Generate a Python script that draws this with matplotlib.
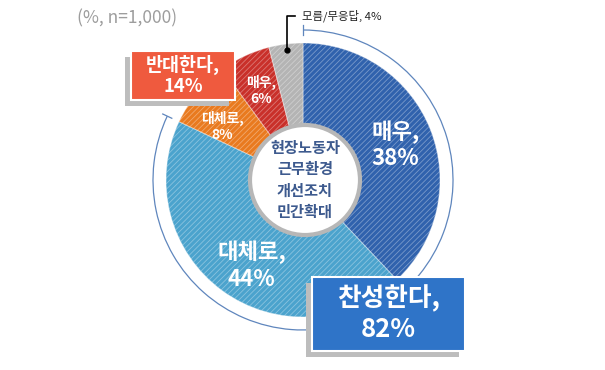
import numpy as np
import matplotlib
matplotlib.use("Agg")
import matplotlib.pyplot as plt
from matplotlib.patches import Circle, Rectangle, Arc

plt.rcParams['font.family'] = ['Noto Sans CJK KR', 'DejaVu Sans']
plt.rcParams['hatch.linewidth'] = 0.6

# ================================
# DATA
# ================================
slice_labels = ['매우', '대체로', '대체로', '매우', '모름/무응답']
slice_values = [38, 44, 8, 6, 4]
slice_colors = ['#3062ad', '#4ba3cd', '#e97a1f', '#c9302a', '#b4b4b4']

support_label = '찬성한다'
support_value = slice_values[0] + slice_values[1]
oppose_label = '반대한다'
oppose_value = slice_values[2] + slice_values[3]
center_text = '현장노동자\n근무환경\n개선조치\n민간확대'
note_text = '(%, n=1,000)'

W, H = 605, 370


def Y(y):
    """Convert top-down pixel y into axis y."""
    return H - y


fig = plt.figure(figsize=(W / 100, H / 100), dpi=100)
ax = fig.add_axes([0, 0, 1, 1])

cx, cy = 303, Y(180)
R = 137

ax.pie(slice_values, colors=slice_colors, startangle=90, counterclock=False,
       center=(cx, cy), radius=R, frame=True,
       wedgeprops=dict(hatch='//////', edgecolor=(1, 1, 1, 0.35), linewidth=0.8))
ax.set_xlim(0, W)
ax.set_ylim(0, H)
ax.set_aspect('equal')
ax.axis('off')

# slice labels: (radius fraction, angle nudge in degrees, font size)
total = sum(slice_values)
cum = np.cumsum([0] + slice_values)
label_specs = [(0.72, 1, 16), (0.73, -5, 16), (0.71, -6, 10), (0.72, 0, 10)]
for i, (rf, nudge, fs) in enumerate(label_specs):
    mid = (cum[i] + slice_values[i] / 2) / total * 360 + nudge
    ang = np.deg2rad(90 - mid)
    tx = cx + rf * R * np.cos(ang)
    ty = cy + rf * R * np.sin(ang)
    ax.text(tx, ty, f"{slice_labels[i]},\n{slice_values[i]}%", color='white',
            fontsize=fs, fontweight='bold', ha='center', va='center', linespacing=1.2)

# inner circle
ax.add_patch(Circle((cx + 2, cy), 55, facecolor='white', edgecolor='#b7b7b7', lw=3, zorder=5))
ax.text(cx + 2, cy, center_text, color='#3d5a8e', fontsize=11, fontweight='bold',
        ha='center', va='center', linespacing=1.42, zorder=6)

# outer arc showing the support share
ra = 150
end_deg = 90 - support_value / total * 360
ax.add_patch(Arc((cx, cy), 2 * ra, 2 * ra, theta1=end_deg % 360, theta2=90,
                 color='#5f86bd', lw=0.9))
for a in [90, end_deg]:
    t = np.deg2rad(a)
    ax.plot([cx + (ra - 5) * np.cos(t), cx + (ra + 5) * np.cos(t)],
            [cy + (ra - 5) * np.sin(t), cy + (ra + 5) * np.sin(t)],
            color='#5f86bd', lw=0.9)

# leader for the don't-know slice
mid = (cum[4] + slice_values[4] / 2) / total * 360
t = np.deg2rad(90 - mid)
dx, dy = cx + 0.96 * R * np.cos(t), cy + 0.96 * R * np.sin(t)
ax.plot([dx, dx, dx + 8], [dy, Y(16), Y(16)], color='black', lw=1.2, zorder=7)
ax.plot(dx, dy, 'o', color='black', ms=3.5, zorder=7)
ax.text(302, Y(16), f"{slice_labels[4]}, {slice_values[4]}%", fontsize=8.2,
        ha='left', va='center', color='#222222')


# summary boxes with shadow
def summary_box(x0, y0, x1, y1, color, text, fs):
    ax.add_patch(Rectangle((x0 - 6, Y(y1 + 6)), x1 - x0, y1 - y0, facecolor='#bdbdbd',
                           edgecolor='none', zorder=8))
    ax.add_patch(Rectangle((x0, Y(y1)), x1 - x0, y1 - y0, facecolor=color,
                           edgecolor='white', lw=1.5, zorder=9))
    ax.text((x0 + x1) / 2, Y((y0 + y1) / 2), text, color='white', fontsize=fs,
            fontweight='bold', ha='center', va='center', linespacing=1.15, zorder=10)


summary_box(312, 277, 465, 351, '#2f74c8', f"{support_label},\n{support_value}%", 18.5)
summary_box(131, 51, 235, 100, '#ef5a3e', f"{oppose_label},\n{oppose_value}%", 13.3)

ax.text(77, Y(18), note_text, fontsize=12.5, color='#9d9d9d', ha='left', va='center')

fig.savefig('out.png', dpi=100)
